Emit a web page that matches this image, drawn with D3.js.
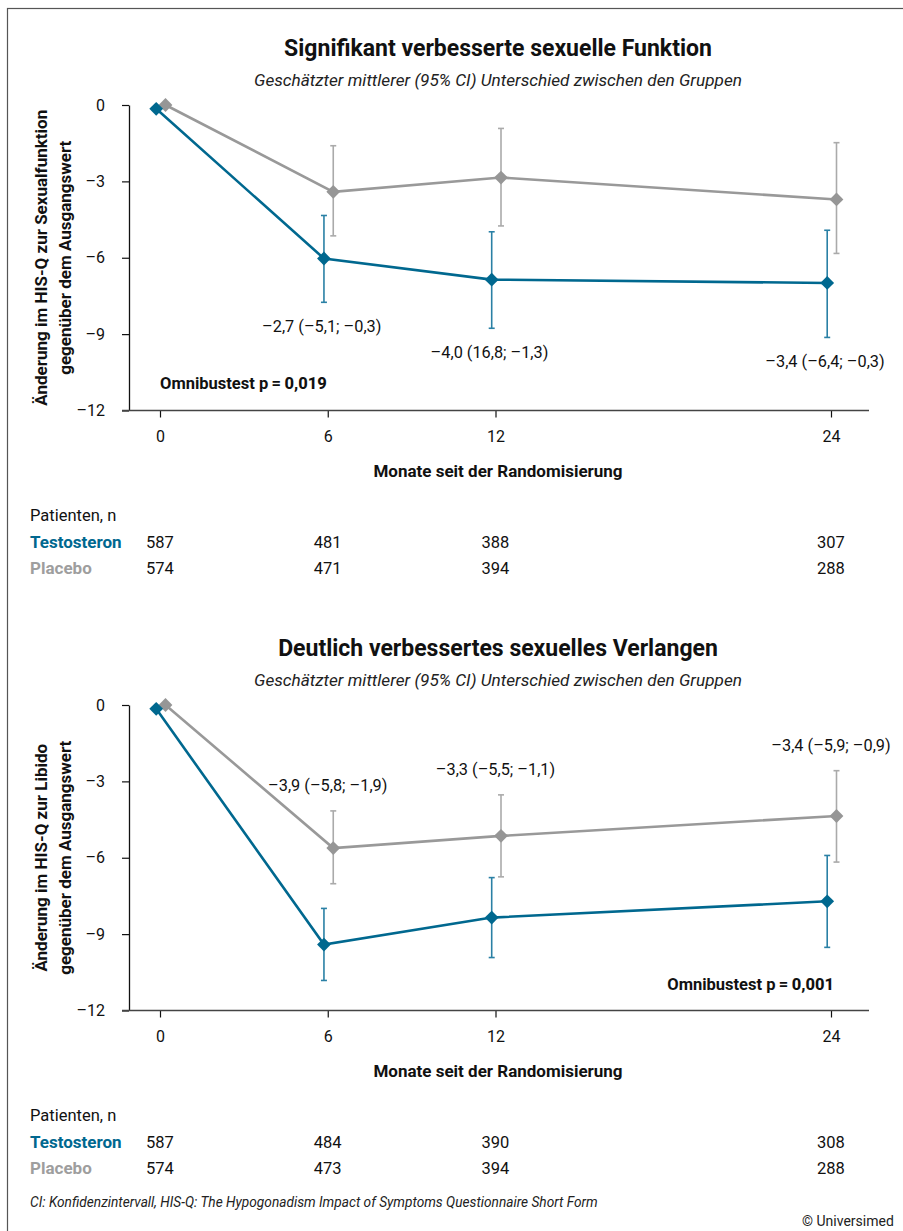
<!DOCTYPE html>
<html>
<head>
<meta charset="utf-8">
<script src="https://cdn.jsdelivr.net/npm/d3@7"></script>
<style>
  html, body { margin: 0; padding: 0; background: #fff; }
  svg { display: block; font-family: Roboto, "Noto Sans", sans-serif; }
</style>
</head>
<body>
<svg id="chart" width="903" height="1231"></svg>
<script>
// ---------- DATA ----------
const months = [0, 6, 12, 24];
const yTicks = [0, -3, -6, -9, -12];
const yTickLabels = ["0", "–3", "–6", "–9", "–12"];

// Panel 1: Sexualfunktion
const p1Title = "Signifikant verbesserte sexuelle Funktion";
const p1YLabel = ["Änderung im HIS-Q zur Sexualfunktion", "gegenüber dem Ausgangswert"];
const p1TestoMean = [-0.15, -6.03, -6.86, -6.99];
const p1TestoLo   = [null, -7.75, -8.77, -9.13];
const p1TestoHi   = [null, -4.34, -4.98, -4.92];
const p1PlacMean  = [0, -3.41, -2.85, -3.71];
const p1PlacLo    = [null, -5.14, -4.75, -5.83];
const p1PlacHi    = [null, -1.60, -0.92, -1.48];
const p1Diff = ["–2,7 (–5,1; –0,3)", "–4,0 (16,8; –1,3)", "–3,4 (–6,4; –0,3)"];
const p1Omnibus = "0,019";
const p1NTesto = [587, 481, 388, 307];
const p1NPlac  = [574, 471, 394, 288];

// Panel 2: Libido
const p2Title = "Deutlich verbessertes sexuelles Verlangen";
const p2YLabel = ["Änderung im HIS-Q zur Libido", "gegenüber dem Ausgangswert"];
const p2TestoMean = [-0.15, -9.41, -8.35, -7.71];
const p2TestoLo   = [null, -10.82, -9.92, -9.52];
const p2TestoHi   = [null, -7.99, -6.78, -5.91];
const p2PlacMean  = [0, -5.62, -5.14, -4.36];
const p2PlacLo    = [null, -7.02, -6.75, -6.17];
const p2PlacHi    = [null, -4.16, -3.53, -2.58];
const p2Diff = ["–3,9 (–5,8; –1,9)", "–3,3 (–5,5; –1,1)", "–3,4 (–5,9; –0,9)"];
const p2Omnibus = "0,001";
const p2NTesto = [587, 484, 390, 308];
const p2NPlac  = [574, 473, 394, 288];

const subtitle = "Geschätzter mittlerer (95% CI) Unterschied zwischen den Gruppen";
const xTitle = "Monate seit der Randomisierung";
const footnote = "CI: Konfidenzintervall, HIS-Q: The Hypogonadism Impact of Symptoms Questionnaire Short Form";
const copyright = "© Universimed";

// ---------- STYLE ----------
const TEAL = "#00688f";
const TEAL_BAR = "#2a80a5";
const GRAY = "#999999";
const GRAY_BAR = "#aaaaaa";
const GRAY_MARK = "#969696";

const svg = d3.select("#chart");

// frame
svg.append("rect").attr("x", 7.5).attr("y", 8.5).attr("width", 1000).attr("height", 1300)
  .attr("fill", "none").attr("stroke", "#555").attr("stroke-width", 1.2);

const x = d3.scaleLinear().domain([0, 24]).range([160, 831]);

function drawPanel(cfg, top) {
  const g = svg.append("g").attr("transform", `translate(0,${top})`);
  const y = d3.scaleLinear().domain([0, -12]).range([105, 410.5]);
  const axisX = 129;

  g.append("text").attr("x", 498).attr("y", 56).attr("text-anchor", "middle")
    .attr("font-size", 23).attr("font-weight", 700).attr("fill", "#111").text(cfg.title);
  g.append("text").attr("x", 498).attr("y", 86).attr("text-anchor", "middle")
    .attr("font-size", 17.2).attr("font-style", "italic").attr("fill", "#222").text(subtitle);

  // y axis
  const ya = g.append("g").attr("transform", `translate(${axisX},0)`)
    .call(d3.axisLeft(y).tickValues(yTicks).tickFormat((d, i) => yTickLabels[i])
      .tickSize(7).tickSizeOuter(0).tickPadding(17));
  ya.select(".domain").attr("stroke", "#111").attr("stroke-width", 1.3);
  ya.selectAll(".tick line").attr("stroke", "#111").attr("stroke-width", 1.2);
  ya.selectAll(".tick text").attr("font-size", 16).attr("fill", "#111").attr("font-family", "Roboto");

  // x axis
  const xa = g.append("g").attr("transform", `translate(0,${y(-12)})`)
    .call(d3.axisBottom(x).tickValues(months).tickSize(7).tickPadding(13));
  xa.select(".domain").remove();
  xa.append("line").attr("x1", axisX - 7).attr("x2", 869).attr("y1", 0).attr("y2", 0)
    .attr("stroke", "#444").attr("stroke-width", 1.3);
  xa.selectAll(".tick line").attr("stroke", "#111").attr("stroke-width", 1.2);
  xa.selectAll(".tick text").attr("font-size", 16).attr("fill", "#111").attr("font-family", "Roboto");

  // y label
  const yl = g.append("text").attr("transform", `translate(0,${(y(0) + y(-12)) / 2}) rotate(-90)`)
    .attr("text-anchor", "middle").attr("font-size", 17).attr("font-weight", 700).attr("fill", "#111");
  yl.append("tspan").attr("x", 0).attr("y", 47).text(cfg.yLabel[0]);
  yl.append("tspan").attr("x", 0).attr("y", 71).text(cfg.yLabel[1]);

  // x title
  g.append("text").attr("x", 498).attr("y", 477).attr("text-anchor", "middle")
    .attr("font-size", 17).attr("font-weight", 700).attr("fill", "#111").text(xTitle);

  const series = [
    { mean: cfg.placMean, lo: cfg.placLo, hi: cfg.placHi, dx: 5.5, line: GRAY, bar: GRAY_BAR, mark: GRAY_MARK },
    { mean: cfg.testoMean, lo: cfg.testoLo, hi: cfg.testoHi, dx: -3.8, line: TEAL, bar: TEAL_BAR, mark: TEAL }
  ];
  const diamond = d3.symbol().type(d3.symbolSquare).size(95);

  series.forEach(s => {
    const pts = months.map((m, i) => ({ m, v: s.mean[i], lo: s.lo[i], hi: s.hi[i] }));
    // error bars
    const eb = g.append("g");
    pts.filter(p => p.lo !== null).forEach(p => {
      const cx = x(p.m) + s.dx;
      eb.append("line").attr("x1", cx).attr("x2", cx).attr("y1", y(p.lo)).attr("y2", y(p.hi))
        .attr("stroke", s.bar).attr("stroke-width", 1.6);
      [p.lo, p.hi].forEach(v => eb.append("line").attr("x1", cx - 3).attr("x2", cx + 3)
        .attr("y1", y(v)).attr("y2", y(v)).attr("stroke", s.bar).attr("stroke-width", 1.6));
    });
    g.append("path").datum(pts)
      .attr("d", d3.line().x(p => x(p.m) + s.dx).y(p => y(p.v)))
      .attr("fill", "none").attr("stroke", s.line).attr("stroke-width", 2.6);
    g.selectAll(null).data(pts).enter().append("path")
      .attr("d", diamond)
      .attr("transform", p => `translate(${x(p.m) + s.dx},${y(p.v)}) rotate(45)`)
      .attr("fill", s.mark);
  });

  // difference annotations
  months.slice(1).forEach((m, i) => {
    const idx = i + 1;
    let ty, tx;
    if (cfg.diffBelow) { ty = y(cfg.testoLo[idx]) + 30; tx = x(m) - 6; }
    else { ty = y(cfg.placHi[idx]) - 20; tx = x(m); }
    g.append("text").attr("x", tx).attr("y", ty).attr("text-anchor", "middle")
      .attr("font-size", 16.3).attr("fill", "#111").text(cfg.diff[i]);
  });

  // omnibus
  const om = g.append("text").attr("font-size", 16.5).attr("font-weight", 700).attr("fill", "#111");
  if (cfg.omniLeft) om.attr("x", 160).attr("y", 389).attr("text-anchor", "start");
  else om.attr("x", 834).attr("y", 990 - 600).attr("text-anchor", "end");
  om.append("tspan").text("Omnibustest p\u2009=\u2009");
  om.append("tspan").attr("font-weight", 800).text(cfg.omnibus);

  // patient table
  g.append("text").attr("x", 30).attr("y", 521).attr("font-size", 16.5).attr("fill", "#111").text("Patienten, n");
  g.append("text").attr("x", 30).attr("y", 548).attr("font-size", 17).attr("font-weight", 700).attr("fill", TEAL).text("Testosteron");
  g.append("text").attr("x", 30).attr("y", 574).attr("font-size", 17).attr("font-weight", 700).attr("fill", "#9e9e9e").text("Placebo");
  [[cfg.nTesto, 548], [cfg.nPlac, 574]].forEach(([arr, yy]) => {
    g.selectAll(null).data(arr).enter().append("text")
      .attr("x", (d, i) => x(months[i])).attr("y", yy).attr("text-anchor", "middle")
      .attr("font-size", 16.5).attr("fill", "#111").text(d => d);
  });
}

drawPanel({
  title: p1Title, yLabel: p1YLabel,
  testoMean: p1TestoMean, testoLo: p1TestoLo, testoHi: p1TestoHi,
  placMean: p1PlacMean, placLo: p1PlacLo, placHi: p1PlacHi,
  diff: p1Diff, diffBelow: true, omnibus: p1Omnibus, omniLeft: true,
  nTesto: p1NTesto, nPlac: p1NPlac
}, 0);

drawPanel({
  title: p2Title, yLabel: p2YLabel,
  testoMean: p2TestoMean, testoLo: p2TestoLo, testoHi: p2TestoHi,
  placMean: p2PlacMean, placLo: p2PlacLo, placHi: p2PlacHi,
  diff: p2Diff, diffBelow: false, omnibus: p2Omnibus, omniLeft: false,
  nTesto: p2NTesto, nPlac: p2NPlac
}, 600);

svg.append("text").attr("x", 30).attr("y", 1207).attr("font-size", 13.7).attr("font-style", "italic")
  .attr("fill", "#222").text(footnote);
svg.append("text").attr("x", 802).attr("y", 1226).attr("font-size", 14).attr("fill", "#222").text(copyright);
</script>
</body>
</html>
